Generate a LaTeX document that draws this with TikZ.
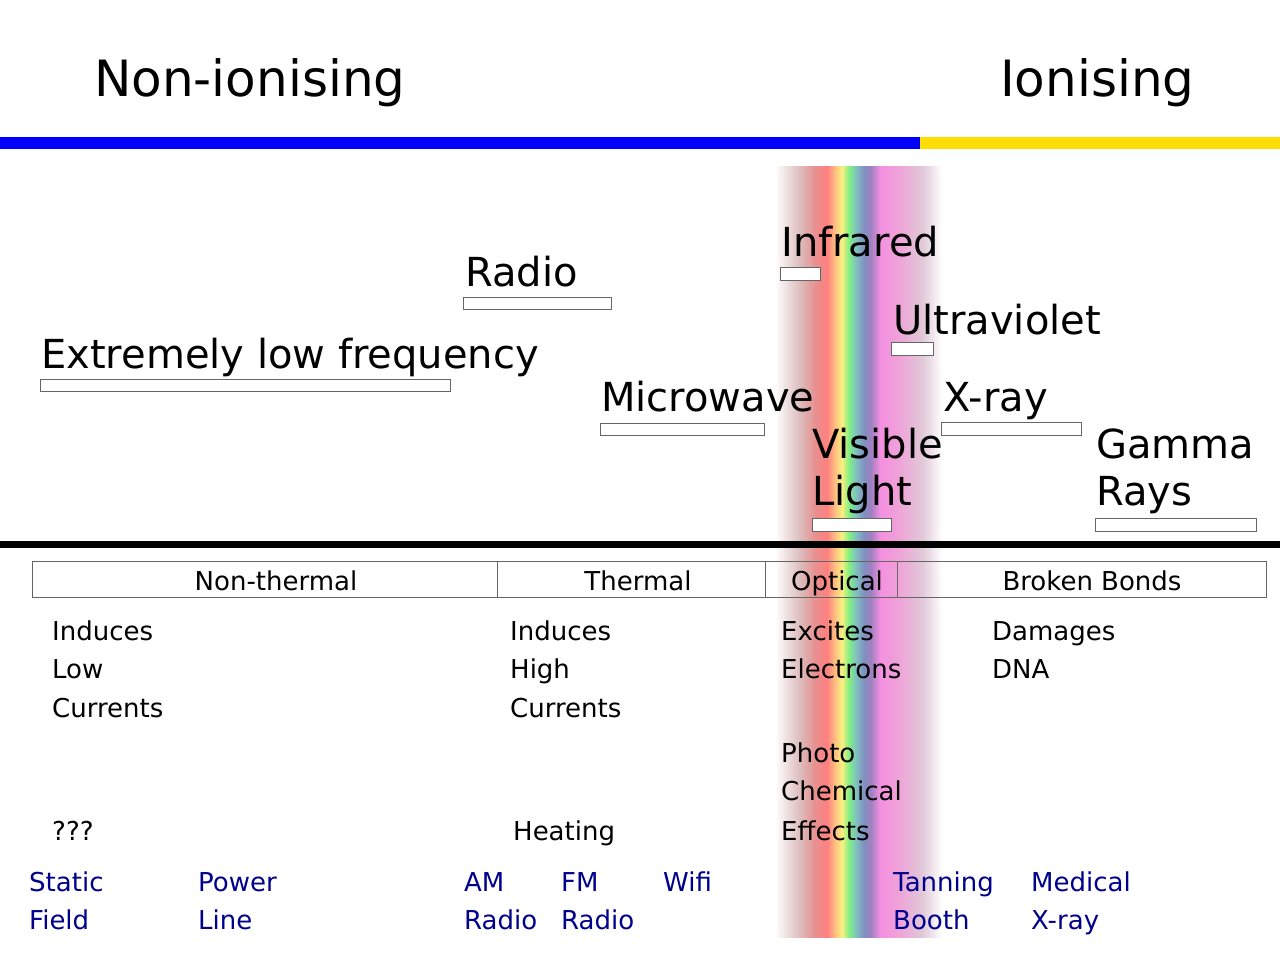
\documentclass[tikz,border=0pt]{standalone}
\usepackage{fontspec}
\setmainfont{DejaVu Sans}
\begin{document}
\begin{tikzpicture}[x=1pt,y=-1pt,
  big/.style={anchor=base west,inner sep=0pt,font=\fontsize{50}{60}\selectfont},
  mid/.style={anchor=base west,inner sep=0pt,font=\fontsize{40}{47}\selectfont},
  sm/.style={anchor=base west,inner sep=0pt,font=\fontsize{26}{31}\selectfont},
  ex/.style={sm,text=blue!55!black},
  rng/.style={draw=black!60,fill=white,line width=0.8pt},
  cell/.style={draw=black!60,line width=0.8pt}]
\useasboundingbox (0,0) rectangle (1280,960);
% rainbow band
\def\seg#1#2#3#4{\shade[left color=#3,right color=#4] (#1,167) rectangle (#2,937);}
\definecolor{c0}{HTML}{FFFFFF}\definecolor{c1}{HTML}{DCBCBC}\definecolor{c2}{HTML}{E89090}
\definecolor{c3}{HTML}{FF8080}\definecolor{c4}{HTML}{FFC080}\definecolor{c5}{HTML}{F8F080}
\definecolor{c6}{HTML}{80F080}\definecolor{c7}{HTML}{80C0C0}\definecolor{c8}{HTML}{8090C0}
\definecolor{c9}{HTML}{A080C0}\definecolor{c10}{HTML}{F490E0}\definecolor{c11}{HTML}{F0A0D8}
\definecolor{c12}{HTML}{E0C8D8}
\seg{775}{800}{c0}{c1}\seg{800}{815}{c1}{c2}\seg{815}{827}{c2}{c3}\seg{827}{835}{c3}{c4}
\seg{835}{842}{c4}{c5}\seg{842}{849}{c5}{c6}\seg{849}{856}{c6}{c7}\seg{856}{864}{c7}{c8}
\seg{864}{871}{c8}{c9}\seg{871}{880}{c9}{c10}\seg{880}{897}{c10}{c11}\seg{897}{922}{c11}{c12}
\seg{922}{942}{c12}{c0}
% header
\node[big] (ni) at (94,97) {Non-ionising};
\node[big] (io) at (1000,97) {Ionising};
\fill[blue] (0,137) rectangle (920,149);
\fill[yellow!80!orange] (920,137) rectangle (1280,149);
% spectrum labels
\node[mid] (radio) at (465,287) {Radio};
\draw[rng] (463,297) rectangle (611,309);
\node[mid] (ir) at (781,257) {Infrared};
\draw[rng] (780,267) rectangle (820,280);
\node[mid] (uv) at (893,334) {Ultraviolet};
\draw[rng] (891,342) rectangle (933,355);
\node[mid] (elf) at (41,368) {Extremely low frequency};
\draw[rng] (40,379) rectangle (450,391);
\node[mid] (mw) at (601,411) {Microwave};
\draw[rng] (600,423) rectangle (764,435);
\node[mid] (xr) at (943,411) {X-ray};
\draw[rng] (941,422) rectangle (1081,435);
\node[mid] (vis1) at (812,458) {Visible};
\node[mid] (vis2) at (812,505) {Light};
\draw[rng] (812,518) rectangle (891,531);
\node[mid] (gam1) at (1096,458) {Gamma};
\node[mid] (gam2) at (1096,505) {Rays};
\draw[rng] (1095,518) rectangle (1256,531);
\draw[line width=7pt] (0,544) -- (1280,544);
% table
\draw[cell] (32,561) rectangle (497,597);
\draw[cell] (497,561) rectangle (765,597);
\draw[cell] (765,561) rectangle (897,597);
\draw[cell] (897,561) rectangle (1266,597);
\node[sm,anchor=base] (t1) at (276,590) {Non-thermal};
\node[sm,anchor=base] (t2) at (638,590) {Thermal};
\node[sm,anchor=base] (t3) at (837,590) {Optical};
\node[sm,anchor=base] (t4) at (1092,590) {Broken Bonds};
% effects
\node[sm] (a1) at (52,640) {Induces};
\node[sm] (a2) at (52,678) {Low};
\node[sm] (a3) at (52,717) {Currents};
\node[sm] (a4) at (52,840) {???};
\node[sm] (b1) at (510,640) {Induces};
\node[sm] (b2) at (510,678) {High};
\node[sm] (b3) at (510,717) {Currents};
\node[sm] (b4) at (513,840) {Heating};
\node[sm] (c1n) at (781,640) {Excites};
\node[sm] (c2n) at (781,678) {Electrons};
\node[sm] (c3n) at (781,762) {Photo};
\node[sm] (c4n) at (781,800) {Chemical};
\node[sm] (c5n) at (781,840) {Effects};
\node[sm] (d1) at (992,640) {Damages};
\node[sm] (d2) at (992,678) {DNA};
% examples
\node[ex] (e1) at (29,891) {Static};
\node[ex] (e2) at (29,929) {Field};
\node[ex] (e3) at (198,891) {Power};
\node[ex] (e4) at (198,929) {Line};
\node[ex] (e5) at (464,891) {AM};
\node[ex] (e6) at (464,929) {Radio};
\node[ex] (e7) at (561,891) {FM};
\node[ex] (e8) at (561,929) {Radio};
\node[ex] (e9) at (663,891) {Wifi};
\node[ex] (e10) at (893,891) {Tanning};
\node[ex] (e11) at (893,929) {Booth};
\node[ex] (e12) at (1031,891) {Medical};
\node[ex] (e13) at (1031,929) {X-ray};
\end{tikzpicture}
\end{document}
